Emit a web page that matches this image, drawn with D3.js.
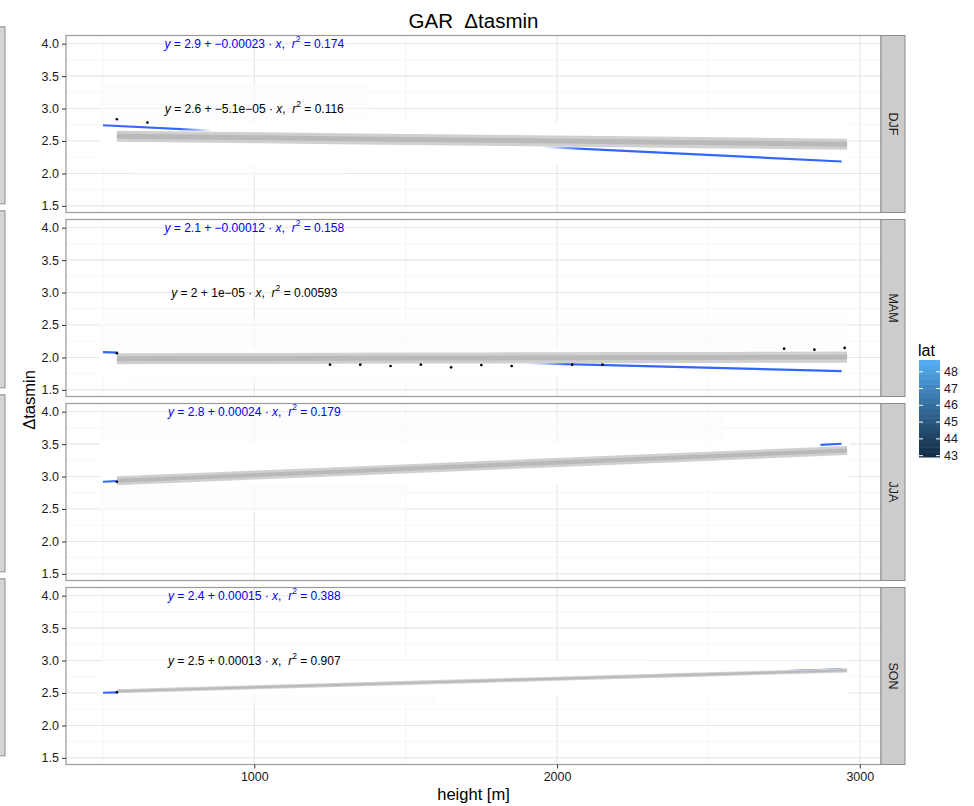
<!DOCTYPE html>
<html>
<head>
<meta charset="utf-8">
<script src="https://cdn.jsdelivr.net/npm/d3@7"></script>
<style>
  body { margin: 0; background: #fff; }
  svg { display: block; }
  text { font-family: "Liberation Sans", Arial, Helvetica, sans-serif; }
</style>
</head>
<body>
<svg id="chart" width="974" height="806"></svg>
<script>
// ---- data -------------------------------------------------------------
const seasons = ["DJF", "MAM", "JJA", "SON"];
const heightTicks = [1000, 2000, 3000];
const heightMinor = [500, 1500, 2500];
const deltaTicks = [1.5, 2.0, 2.5, 3.0, 3.5, 4.0];
const deltaMinor = [1.75, 2.25, 2.75, 3.25, 3.75];
const latTicks = [43, 44, 45, 46, 47, 48];
const latRange = [42.92, 48.7];

// blue linear fit per season (first data set)
const blueIntercept = [2.857, 2.14, 2.80, 2.43];
const blueSlope = [-0.000229, -0.000119, 0.000240, 0.000148];
const blueR2 = [0.174, 0.158, 0.179, 0.388];
const blueHeights = [500, 2940];
// stretches of the blue fit that stay uncovered by the station cloud
const blueShown = [
  [[500, 860], [1950, 2940]],
  [[500, 548], [1900, 2940]],
  [[500, 548], [2870, 2940]],
  [[500, 548], [2760, 2940]]
];

// grey fit with confidence ribbon per season (second data set)
const greyIntercept = [2.601, 1.974, 2.83, 2.455];
const greySlope = [-0.000051, 0.0000104, 0.000193, 0.000133];
const greyR2 = [0.116, 0.00593, null, 0.907];
const greySE = [0.085, 0.085, 0.07, 0.032];
const greyHeights = [546, 2958];

// band means drawn as points [height, delta]
const bandPoints = [
  [[546, 2.835], [647, 2.785]],
  [[546, 2.066], [1250, 1.889], [1350, 1.889], [1450, 1.868], [1550, 1.889], [1650, 1.848],
   [1750, 1.882], [1850, 1.868], [2050, 1.889], [2150, 1.889], [2750, 2.135],
   [2850, 2.12], [2950, 2.146]],
  [[546, 2.92]],
  [[546, 2.51]]
];

// opaque station cloud [h0, h1, d0, d1] and faint scatter haze
const cloud = [
  [490, 2965, 2.12, 2.79],
  [490, 2965, 1.71, 2.11],
  [490, 2965, 2.87, 3.53],
  [490, 2965, 2.47, 3.0]
];
const haze = [
  [[490, 1380, 2.79, 3.40], [600, 1300, 1.95, 2.12]],
  [[490, 2960, 2.11, 2.62], [600, 2000, 1.60, 1.71]],
  [[490, 2550, 3.53, 3.95], [490, 1500, 2.45, 2.87]],
  [[490, 1600, 2.34, 2.47], [500, 2300, 3.0, 3.03]]
];

// ---- layout -----------------------------------------------------------
const svg = d3.select("#chart");
svg.append("rect").attr("width", 974).attr("height", 806).attr("fill", "#fff");

const left = 66, right = 881, stripW = 24;
const panelH = 177, pitch = 184, top0 = 35.5;
const x = d3.scaleLinear().domain([378, 3070]).range([left, right]);
const yDomain = [1.398, 4.126];

const blue = "#3366FF";
const defs = svg.append("defs");

// R-style number printing (signif, fixed vs scientific)
function rNum(v, digits) {
  const s = Number(v.toPrecision(digits));
  if (s === 0) return "0";
  const fixed = String(s);
  let e = Math.floor(Math.log10(Math.abs(s)));
  let m = Number((s / Math.pow(10, e)).toPrecision(digits));
  if (Math.abs(m) >= 10) { m /= 10; e += 1; }
  const sci = String(m) + "e" + (e < 0 ? "-" : "+") + String(Math.abs(e)).padStart(2, "0");
  return (fixed.length <= sci.length ? fixed : sci).replace(/-/g, "\u2212");
}

function eqLabel(g, px, py, a, b, r2, color) {
  const t = g.append("text")
    .attr("x", px).attr("y", py)
    .attr("text-anchor", "middle")
    .attr("dominant-baseline", "central")
    .attr("font-size", 12)
    .attr("fill", color)
    .style("white-space", "pre");
  t.append("tspan").attr("font-style", "italic").text("y");
  t.append("tspan").text(" = " + rNum(a, 2) + " + " + rNum(b, 2) + " \u00B7 ");
  t.append("tspan").attr("font-style", "italic").text("x");
  t.append("tspan").text(",  ");
  t.append("tspan").attr("font-style", "italic").text("r");
  t.append("tspan").attr("font-size", 8.5).attr("dy", -4.5).text("2");
  t.append("tspan").attr("dy", 4.5).text(" = " + rNum(r2, 3));
}

seasons.forEach((season, i) => {
  const top = top0 + i * pitch;
  const y = d3.scaleLinear().domain(yDomain).range([top + panelH, top]);
  const g = svg.append("g");

  // clipped panel content
  defs.append("clipPath").attr("id", "clip" + i)
    .append("rect").attr("x", left).attr("y", top).attr("width", right - left).attr("height", panelH);
  const p = g.append("g").attr("clip-path", `url(#clip${i})`);

  // grid
  p.selectAll(".gxm").data(heightMinor).join("line")
    .attr("x1", d => x(d)).attr("x2", d => x(d)).attr("y1", top).attr("y2", top + panelH)
    .attr("stroke", "#f2f2f2").attr("stroke-width", 0.7);
  p.selectAll(".gym").data(deltaMinor).join("line")
    .attr("x1", left).attr("x2", right).attr("y1", d => y(d)).attr("y2", d => y(d))
    .attr("stroke", "#f2f2f2").attr("stroke-width", 0.7);
  p.selectAll(".gx").data(heightTicks).join("line")
    .attr("x1", d => x(d)).attr("x2", d => x(d)).attr("y1", top).attr("y2", top + panelH)
    .attr("stroke", "#e6e6e6").attr("stroke-width", 1.1);
  p.selectAll(".gy").data(deltaTicks).join("line")
    .attr("x1", left).attr("x2", right).attr("y1", d => y(d)).attr("y2", d => y(d))
    .attr("stroke", "#e6e6e6").attr("stroke-width", 1.1);

  // faint scatter haze and the opaque station cloud
  p.selectAll(".haze").data(haze[i]).join("rect")
    .attr("x", d => x(d[0])).attr("width", d => x(d[1]) - x(d[0]))
    .attr("y", d => y(d[3])).attr("height", d => y(d[2]) - y(d[3]))
    .attr("fill", "#fbfcfe").attr("opacity", 0.6);
  const c = cloud[i];
  p.append("rect")
    .attr("x", x(c[0])).attr("width", x(c[1]) - x(c[0]))
    .attr("y", y(c[3])).attr("height", y(c[2]) - y(c[3]))
    .attr("fill", "#fff");

  // blue fit, visible stretches with soft fading where it enters the cloud
  const bf = h => blueIntercept[i] + blueSlope[i] * h;
  blueShown[i].forEach((seg, k) => {
    const x0 = x(seg[0]), x1 = x(seg[1]);
    const id = `bg${i}_${k}`;
    const grad = defs.append("linearGradient").attr("id", id)
      .attr("gradientUnits", "userSpaceOnUse")
      .attr("x1", x0).attr("y1", 0).attr("x2", x1).attr("y2", 0);
    const len = x1 - x0, fade = len > 60 ? Math.min(40, len * 0.3) / len : 0;
    const fadeIn = seg[0] > blueHeights[0] && fade > 0;
    const fadeOut = seg[1] < blueHeights[1] && fade > 0;
    grad.append("stop").attr("offset", 0).attr("stop-color", blue).attr("stop-opacity", fadeIn ? 0 : 1);
    grad.append("stop").attr("offset", fadeIn ? fade : 0).attr("stop-color", blue).attr("stop-opacity", 1);
    grad.append("stop").attr("offset", fadeOut ? 1 - fade : 1).attr("stop-color", blue).attr("stop-opacity", 1);
    grad.append("stop").attr("offset", 1).attr("stop-color", blue).attr("stop-opacity", fadeOut ? 0 : 1);
    p.append("path")
      .attr("d", d3.line()([[x0, y(bf(seg[0]))], [x1, y(bf(seg[1]))]]))
      .attr("stroke", `url(#${id})`).attr("stroke-width", 2.2).attr("fill", "none");
  });

  // grey fit with ribbon
  const gf = h => greyIntercept[i] + greySlope[i] * h;
  const gh = d3.range(greyHeights[0], greyHeights[1] + 1, (greyHeights[1] - greyHeights[0]) / 10);
  p.append("path")
    .attr("d", d3.area().x(h => x(h)).y0(h => y(gf(h) - greySE[i])).y1(h => y(gf(h) + greySE[i]))(gh))
    .attr("fill", "#d0d0d0");
  p.append("path")
    .attr("d", d3.line().x(h => x(h)).y(h => y(gf(h)))(gh))
    .attr("stroke", "#b9b9b9").attr("stroke-width", Math.max(1.6, greySE[i] * 65 * 0.9))
    .attr("fill", "none");

  // points
  p.selectAll(".pt").data(bandPoints[i]).join("circle")
    .attr("cx", d => x(d[0])).attr("cy", d => y(d[1])).attr("r", 1.35).attr("fill", "#000");

  // equation labels
  eqLabel(g, x(1000), y(4.0), blueIntercept[i], blueSlope[i], blueR2[i], "#0000ff");
  if (greyR2[i] !== null) eqLabel(g, x(1000), y(3.0), greyIntercept[i], greySlope[i], greyR2[i], "#000");

  // panel border
  g.append("rect").attr("x", left).attr("y", top).attr("width", right - left).attr("height", panelH)
    .attr("fill", "none").attr("stroke", "#9a9a9a").attr("stroke-width", 1.2);

  // y axis
  const ya = g.append("g").attr("transform", `translate(${left},0)`)
    .call(d3.axisLeft(y).tickValues(deltaTicks).tickFormat(d3.format(".1f")).tickSize(4).tickPadding(3));
  ya.select(".domain").remove();
  ya.selectAll("line").attr("stroke", "#333");
  ya.selectAll("text").attr("font-size", 12.5).attr("fill", "#1a1a1a")
    .attr("font-family", "'Liberation Sans', Arial, sans-serif");

  // right strip
  g.append("rect").attr("x", right).attr("y", top).attr("width", stripW).attr("height", panelH)
    .attr("fill", "#cccccc").attr("stroke", "#8c8c8c").attr("stroke-width", 1);
  g.append("text")
    .attr("transform", `translate(${right + stripW / 2},${top + panelH / 2}) rotate(90)`)
    .attr("text-anchor", "middle").attr("dominant-baseline", "central")
    .attr("font-size", 12.5).attr("fill", "#1a1a1a").text(season);

  // cut-off strip of the companion panel on the far left
  g.append("rect").attr("x", -20).attr("y", top - 8.7).attr("width", 25).attr("height", panelH)
    .attr("fill", "#d4d4d4").attr("stroke", "#8c8c8c").attr("stroke-width", 1);

  if (i === seasons.length - 1) {
    const xa = g.append("g").attr("transform", `translate(0,${top + panelH})`)
      .call(d3.axisBottom(x).tickValues(heightTicks).tickFormat(d3.format("d")).tickSize(4).tickPadding(4));
    xa.select(".domain").remove();
    xa.selectAll("line").attr("stroke", "#333");
    xa.selectAll("text").attr("font-size", 12.5).attr("fill", "#1a1a1a")
      .attr("font-family", "'Liberation Sans', Arial, sans-serif");
  }
});

// titles
svg.append("text").attr("x", 473.5).attr("y", 20).attr("text-anchor", "middle")
  .attr("dominant-baseline", "central").attr("font-size", 20.5).attr("fill", "#000")
  .style("white-space", "pre").text("GAR  \u0394tasmin");
svg.append("text").attr("x", 473.5).attr("y", 794).attr("text-anchor", "middle")
  .attr("dominant-baseline", "central").attr("font-size", 16.5).attr("fill", "#000")
  .text("height [m]");
svg.append("text").attr("transform", "translate(29,400) rotate(-90)").attr("text-anchor", "middle")
  .attr("dominant-baseline", "central").attr("font-size", 16.5).attr("fill", "#000")
  .text("\u0394tasmin");

// colour bar legend for latitude
const barX = 919, barW = 21, barTop = 360, barBottom = 457;
const lat = d3.scaleLinear().domain(latRange).range([barBottom, barTop]);
const latColor = d3.scaleLinear().domain(latRange).range(["#132B43", "#56B1F7"]).interpolate(d3.interpolateLab);
const nBins = 20;
const binEdges = d3.range(nBins + 1).map(k => latRange[0] + (latRange[1] - latRange[0]) * k / nBins);
const lg = svg.append("g");
lg.selectAll("rect").data(d3.range(nBins)).join("rect")
  .attr("x", barX).attr("width", barW)
  .attr("y", k => lat(binEdges[k + 1])).attr("height", k => lat(binEdges[k]) - lat(binEdges[k + 1]) + 0.5)
  .attr("fill", k => latColor((binEdges[k] + binEdges[k + 1]) / 2));
lg.selectAll(".tl").data(latTicks).join("line")
  .attr("x1", barX).attr("x2", barX + 4).attr("y1", d => lat(d)).attr("y2", d => lat(d))
  .attr("stroke", "#fff").attr("stroke-width", 1);
lg.selectAll(".tr").data(latTicks).join("line")
  .attr("x1", barX + barW - 4).attr("x2", barX + barW).attr("y1", d => lat(d)).attr("y2", d => lat(d))
  .attr("stroke", "#fff").attr("stroke-width", 1);
lg.selectAll("text").data(latTicks).join("text")
  .attr("x", barX + barW + 4).attr("y", d => lat(d)).attr("dominant-baseline", "central")
  .attr("font-size", 12.5).attr("fill", "#1a1a1a").text(d => d);
svg.append("text").attr("x", 918).attr("y", 350).attr("dominant-baseline", "central")
  .attr("font-size", 16).attr("fill", "#000").text("lat");
</script>
</body>
</html>
